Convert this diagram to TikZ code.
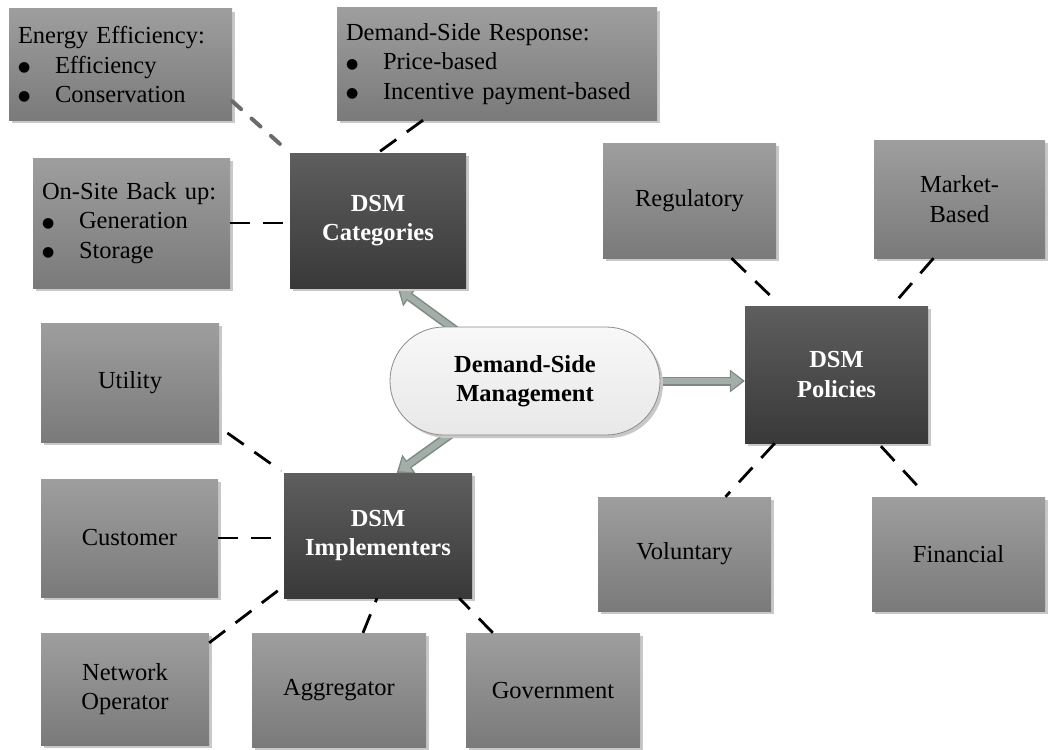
\documentclass[tikz,border=0pt]{standalone}
\usepackage{fontspec}
\setmainfont{Liberation Serif}
\newfontfamily\dotfont{DejaVu Sans}
\usetikzlibrary{arrows.meta,shadows,backgrounds,shapes.misc}

\definecolor{boxtop}{HTML}{9E9E9E}
\definecolor{boxbot}{HTML}{7A7A7A}
\definecolor{darktop}{HTML}{5E5E5E}
\definecolor{darkbot}{HTML}{393939}
\definecolor{shadowgray}{HTML}{C8C8C8}
\definecolor{arrowfill}{HTML}{A2AEA7}
\definecolor{arrowedge}{HTML}{7D8982}
\definecolor{ovaltop}{HTML}{F8F8F8}
\definecolor{ovalbot}{HTML}{E8E8E8}

% bullet with a fixed indent for the list boxes
\newcommand\listbul{\makebox[37pt][l]{\raisebox{1.8pt}{\dotfont\fontsize{14pt}{14pt}\selectfont ●}}}

\tikzset{
  every node/.style={font=\fontsize{24.5pt}{29.5pt}\selectfont},
  boxshadow/.style={drop shadow={shadow xshift=3pt, shadow yshift=-3pt, fill=shadowgray, opacity=1}},
  optbox/.style={boxshadow, top color=boxtop, bottom color=boxbot, inner sep=0pt, align=center, text=black},
  listbox/.style={optbox, align=left, inner xsep=9pt, inner ysep=0pt},
  hubbox/.style={boxshadow, top color=darktop, bottom color=darkbot, inner sep=0pt, align=center,
                 text=white, font=\fontsize{24.5pt}{29.5pt}\selectfont\bfseries},
  corebox/.style={rounded rectangle, boxshadow, top color=ovaltop, bottom color=ovalbot,
                  draw=black!45, line width=0.8pt, align=center, inner sep=0pt,
                  font=\fontsize{24.5pt}{29.5pt}\selectfont\bfseries},
  sz/.style 2 args={minimum width=#1pt, minimum height=#2pt},
  link/.style={draw=black, line width=2.8pt, dash pattern=on 20pt off 13pt},
  softlink/.style={draw=black!58, line width=4pt, line cap=round, dash pattern=on 12pt off 14pt},
  flowedge/.style={draw=arrowedge, line width=9pt,
                   -{Triangle[width=23pt,length=15pt,line width'=0pt]}},
  flowfill/.style={draw=arrowfill, line width=6pt, shorten >=2.6pt,
                   -{Triangle[width=18pt,length=11pt,line width'=0pt]}},
}

\begin{document}
\begin{tikzpicture}[x=1pt, y=-1pt]
\useasboundingbox (0,0) rectangle (1048,749);

% central concept
\node[corebox, sz={270}{108}] (dsm) at (525,381) {Demand-Side\\Management};

% the three hubs
\node[hubbox, sz={176}{135}] (cat) at (378,220.5) {DSM\\Categories};
\node[hubbox, sz={183}{137}] (pol) at (836.5,374.5) {DSM\\Policies};
\node[hubbox, sz={188}{125}] (imp) at (378,535.5) {DSM\\Implementers};

% categories
\node[listbox, sz={223}{111}, text width=205pt] (ee) at (120.5,64.5)
  {Energy Efficiency:\\\listbul Efficiency\\\listbul Conservation};
\node[listbox, sz={320}{112}, text width=302pt, inner xsep=9pt] (dsr) at (497,64)
  {Demand-Side Response:\\\listbul Price-based\\\listbul Incentive payment-based};
\node[listbox, sz={197}{130}, text width=179pt] (osb) at (131.5,223)
  {On-Site Back up:\\\listbul Generation\\\listbul Storage};

% policies
\node[optbox, sz={173}{115}] (reg) at (689.5,200.5) {Regulatory};
\node[optbox, sz={171}{118}] (mkt) at (959.5,199) {Market-\\Based};
\node[optbox, sz={173}{114}] (vol) at (684.5,554) {Voluntary};
\node[optbox, sz={173}{114}] (fin) at (958.5,554) {Financial};

% implementers
\node[optbox, sz={178}{119}] (uti) at (130,382.5) {Utility};
\node[optbox, sz={177}{118}] (cus) at (129.5,538) {Customer};
\node[optbox, sz={168}{112}] (net) at (125,689) {Network\\Operator};
\node[optbox, sz={174}{114}] (agg) at (339,690) {Aggregator};
\node[optbox, sz={174}{114}] (gov) at (553,690) {Government};

% ports where the block arrows meet the hubs
\coordinate (catport) at ([xshift=108pt]cat.south west);
\coordinate (impport) at ([xshift=113pt]imp.north west);
\coordinate (polport) at (dsm.center -| pol.west);

% white page, then the block arrows from the central concept under the oval
\begin{scope}[on background layer]
  \fill[white] (0,0) rectangle (1048,749);
  \foreach \port in {catport, impport, polport} {
    \draw[flowedge] (dsm.center) -- (\port);
    \draw[flowfill] (dsm.center) -- (\port);
  }
\end{scope}

% dashed links to the categories
\draw[softlink] ([yshift=19pt]ee.south east) -- (cat.north west);
\draw[link] ([xshift=-74pt]dsr.south) -- (cat.north);
\draw[link] (osb.east) -- (osb.east -| cat.west);

% dashed links to the policies
\draw[link, shorten >=8pt] ([xshift=42pt]reg.south) -- ([xshift=36pt]pol.north west);
\draw[link, shorten >=3pt] ([xshift=-26pt]mkt.south) -- ([xshift=-36pt]pol.north east);
\draw[link] ([xshift=30pt]pol.south west) -- ([xshift=41pt]vol.north);
\draw[link, shorten <=4pt, shorten >=5pt] ([xshift=-50pt]pol.south east) -- ([xshift=-31pt]fin.north);

% dashed links to the implementers
\draw[link, shorten <=10pt, shorten >=3pt] ([yshift=15pt]uti.south east) -- (imp.north west);
\draw[link, shorten >=7pt] (cus.east) -- (cus.east -| imp.west);
\draw[link] ([yshift=-10pt]net.north east) -- ([yshift=12pt]imp.south west);
\draw[link] ([xshift=24pt]agg.north) -- ([xshift=-1pt]imp.south);
\draw[link] ([xshift=27pt]gov.north west) -- ([xshift=-13pt]imp.south east);
\end{tikzpicture}
\end{document}
